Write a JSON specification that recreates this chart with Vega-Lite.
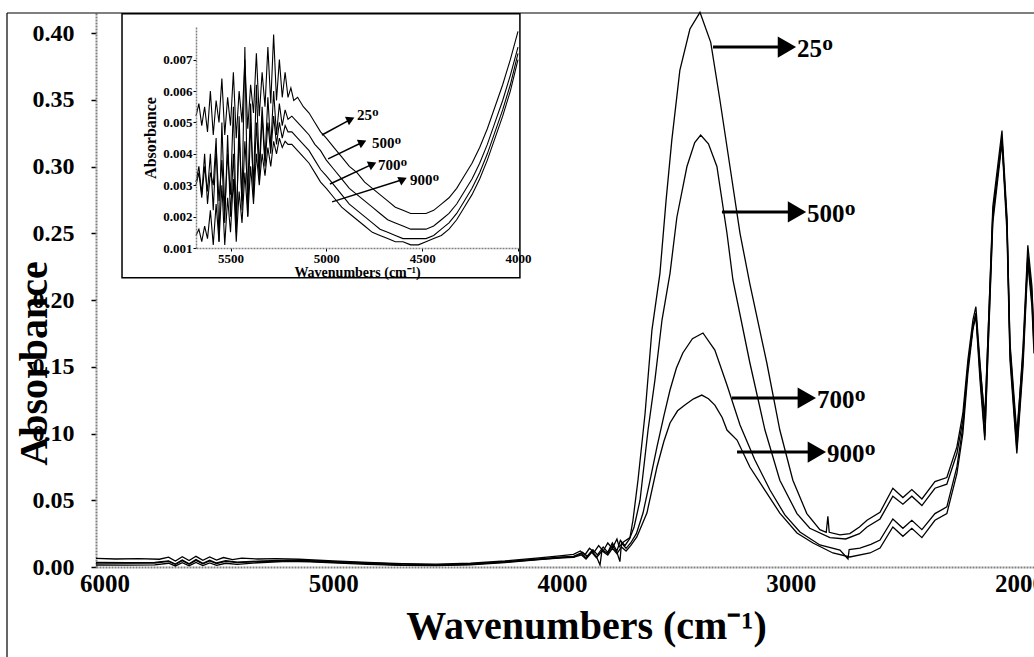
{
"$schema":"https://vega.github.io/schema/vega-lite/v6.json",
"width":938,"height":554,
"autosize":{"type":"none"},
"padding":{"left":96,"top":13,"right":0,"bottom":90},
"background":"white",
"config":{"view":{"stroke":null},"axis":{"grid":false},"text":{"font":"Liberation Serif"}},
"datasets":{
"main":[
{"s":"25","w":6037,"a":0.0065},{"s":"25","w":5950,"a":0.006},{"s":"25","w":5850,"a":0.0062},{"s":"25","w":5760,"a":0.0058},{"s":"25","w":5720,"a":0.0074},{"s":"25","w":5690,"a":0.0045},{"s":"25","w":5660,"a":0.0077},{"s":"25","w":5630,"a":0.0048},{"s":"25","w":5600,"a":0.008},{"s":"25","w":5570,"a":0.005},{"s":"25","w":5540,"a":0.0075},{"s":"25","w":5510,"a":0.0052},{"s":"25","w":5480,"a":0.0071},{"s":"25","w":5440,"a":0.0055},{"s":"25","w":5400,"a":0.0066},{"s":"25","w":5330,"a":0.006},{"s":"25","w":5250,"a":0.0062},{"s":"25","w":5150,"a":0.0058},{"s":"25","w":5000,"a":0.0045},{"s":"25","w":4850,"a":0.0035},{"s":"25","w":4700,"a":0.0026},{"s":"25","w":4550,"a":0.0022},{"s":"25","w":4400,"a":0.0028},{"s":"25","w":4250,"a":0.0045},{"s":"25","w":4100,"a":0.0068},{"s":"25","w":4000,"a":0.0085},{"s":"25","w":3950,"a":0.0095},{"s":"25","w":3920,"a":0.012},{"s":"25","w":3900,"a":0.009},{"s":"25","w":3880,"a":0.014},{"s":"25","w":3860,"a":0.011},{"s":"25","w":3840,"a":0.016},{"s":"25","w":3820,"a":0.012},{"s":"25","w":3800,"a":0.018},{"s":"25","w":3780,"a":0.014},{"s":"25","w":3760,"a":0.021},{"s":"25","w":3750,"a":0.015},{"s":"25","w":3730,"a":0.019},{"s":"25","w":3703,"a":0.022},{"s":"25","w":3690,"a":0.035},{"s":"25","w":3668,"a":0.065},{"s":"25","w":3637,"a":0.115},{"s":"25","w":3607,"a":0.1775},{"s":"25","w":3572,"a":0.22},{"s":"25","w":3545,"a":0.275},{"s":"25","w":3520,"a":0.32},{"s":"25","w":3485,"a":0.372},{"s":"25","w":3441,"a":0.403},{"s":"25","w":3397,"a":0.4155},{"s":"25","w":3350,"a":0.393},{"s":"25","w":3310,"a":0.35},{"s":"25","w":3266,"a":0.3},{"s":"25","w":3222,"a":0.25},{"s":"25","w":3179,"a":0.212},{"s":"25","w":3105,"a":0.153},{"s":"25","w":3048,"a":0.1026},{"s":"25","w":2991,"a":0.065},{"s":"25","w":2930,"a":0.04},{"s":"25","w":2873,"a":0.028},{"s":"25","w":2845,"a":0.026},{"s":"25","w":2838,"a":0.038},{"s":"25","w":2832,"a":0.026},{"s":"25","w":2785,"a":0.024},{"s":"25","w":2742,"a":0.025},{"s":"25","w":2700,"a":0.03},{"s":"25","w":2667,"a":0.035},{"s":"25","w":2610,"a":0.041},{"s":"25","w":2554,"a":0.059},{"s":"25","w":2510,"a":0.052},{"s":"25","w":2471,"a":0.058},{"s":"25","w":2427,"a":0.051},{"s":"25","w":2370,"a":0.064},{"s":"25","w":2318,"a":0.067},{"s":"25","w":2274,"a":0.09},{"s":"25","w":2248,"a":0.115},{"s":"25","w":2226,"a":0.155},{"s":"25","w":2204,"a":0.185},{"s":"25","w":2191,"a":0.195},{"s":"25","w":2173,"a":0.153},{"s":"25","w":2152,"a":0.108},{"s":"25","w":2117,"a":0.27},{"s":"25","w":2077,"a":0.327},{"s":"25","w":2055,"a":0.262},{"s":"25","w":2042,"a":0.165},{"s":"25","w":2012,"a":0.095},{"s":"25","w":1985,"a":0.165},{"s":"25","w":1964,"a":0.241},{"s":"25","w":1946,"a":0.21},{"s":"25","w":1937,"a":0.17},
{"s":"500","w":6037,"a":0.0035},{"s":"500","w":5900,"a":0.0032},{"s":"500","w":5780,"a":0.0034},{"s":"500","w":5720,"a":0.0046},{"s":"500","w":5690,"a":0.0022},{"s":"500","w":5660,"a":0.0052},{"s":"500","w":5630,"a":0.0024},{"s":"500","w":5600,"a":0.0056},{"s":"500","w":5570,"a":0.0027},{"s":"500","w":5540,"a":0.0051},{"s":"500","w":5510,"a":0.003},{"s":"500","w":5470,"a":0.0047},{"s":"500","w":5420,"a":0.0036},{"s":"500","w":5330,"a":0.0044},{"s":"500","w":5200,"a":0.0051},{"s":"500","w":5100,"a":0.0047},{"s":"500","w":5000,"a":0.004},{"s":"500","w":4850,"a":0.003},{"s":"500","w":4700,"a":0.0021},{"s":"500","w":4550,"a":0.0016},{"s":"500","w":4400,"a":0.0022},{"s":"500","w":4250,"a":0.004},{"s":"500","w":4100,"a":0.006},{"s":"500","w":4000,"a":0.0075},{"s":"500","w":3950,"a":0.008},{"s":"500","w":3910,"a":0.011},{"s":"500","w":3890,"a":0.008},{"s":"500","w":3865,"a":0.013},{"s":"500","w":3845,"a":0.009},{"s":"500","w":3820,"a":0.015},{"s":"500","w":3800,"a":0.011},{"s":"500","w":3780,"a":0.018},{"s":"500","w":3760,"a":0.012},{"s":"500","w":3745,"a":0.02},{"s":"500","w":3725,"a":0.016},{"s":"500","w":3705,"a":0.021},{"s":"500","w":3685,"a":0.03},{"s":"500","w":3659,"a":0.05},{"s":"500","w":3624,"a":0.1026},{"s":"500","w":3594,"a":0.14},{"s":"500","w":3563,"a":0.185},{"s":"500","w":3528,"a":0.22},{"s":"500","w":3498,"a":0.262},{"s":"500","w":3454,"a":0.3},{"s":"500","w":3420,"a":0.318},{"s":"500","w":3394,"a":0.3236},{"s":"500","w":3360,"a":0.317},{"s":"500","w":3323,"a":0.3},{"s":"500","w":3279,"a":0.25},{"s":"500","w":3253,"a":0.215},{"s":"500","w":3179,"a":0.153},{"s":"500","w":3113,"a":0.1026},{"s":"500","w":3048,"a":0.065},{"s":"500","w":2973,"a":0.04},{"s":"500","w":2917,"a":0.029},{"s":"500","w":2829,"a":0.022},{"s":"500","w":2760,"a":0.021},{"s":"500","w":2700,"a":0.025},{"s":"500","w":2667,"a":0.03},{"s":"500","w":2610,"a":0.036},{"s":"500","w":2554,"a":0.053},{"s":"500","w":2510,"a":0.047},{"s":"500","w":2471,"a":0.053},{"s":"500","w":2427,"a":0.046},{"s":"500","w":2370,"a":0.059},{"s":"500","w":2318,"a":0.062},{"s":"500","w":2274,"a":0.085},{"s":"500","w":2248,"a":0.11},{"s":"500","w":2226,"a":0.15},{"s":"500","w":2204,"a":0.18},{"s":"500","w":2191,"a":0.19},{"s":"500","w":2173,"a":0.15},{"s":"500","w":2152,"a":0.112},{"s":"500","w":2117,"a":0.265},{"s":"500","w":2077,"a":0.32},{"s":"500","w":2055,"a":0.258},{"s":"500","w":2042,"a":0.168},{"s":"500","w":2012,"a":0.1},{"s":"500","w":1985,"a":0.16},{"s":"500","w":1964,"a":0.235},{"s":"500","w":1946,"a":0.205},{"s":"500","w":1937,"a":0.175},
{"s":"700","w":6037,"a":0.003},{"s":"700","w":5900,"a":0.0029},{"s":"700","w":5780,"a":0.003},{"s":"700","w":5720,"a":0.0042},{"s":"700","w":5690,"a":0.002},{"s":"700","w":5660,"a":0.0048},{"s":"700","w":5630,"a":0.0021},{"s":"700","w":5600,"a":0.005},{"s":"700","w":5570,"a":0.0024},{"s":"700","w":5540,"a":0.0046},{"s":"700","w":5510,"a":0.0026},{"s":"700","w":5470,"a":0.0042},{"s":"700","w":5420,"a":0.0033},{"s":"700","w":5330,"a":0.004},{"s":"700","w":5200,"a":0.0047},{"s":"700","w":5100,"a":0.0042},{"s":"700","w":5000,"a":0.0035},{"s":"700","w":4850,"a":0.0025},{"s":"700","w":4700,"a":0.0015},{"s":"700","w":4550,"a":0.0013},{"s":"700","w":4400,"a":0.0019},{"s":"700","w":4250,"a":0.0036},{"s":"700","w":4100,"a":0.0058},{"s":"700","w":4000,"a":0.007},{"s":"700","w":3950,"a":0.0075},{"s":"700","w":3915,"a":0.01},{"s":"700","w":3895,"a":0.007},{"s":"700","w":3870,"a":0.012},{"s":"700","w":3850,"a":0.008},{"s":"700","w":3834,"a":0.0015},{"s":"700","w":3825,"a":0.013},{"s":"700","w":3800,"a":0.01},{"s":"700","w":3780,"a":0.016},{"s":"700","w":3760,"a":0.011},{"s":"700","w":3747,"a":0.004},{"s":"700","w":3740,"a":0.018},{"s":"700","w":3720,"a":0.014},{"s":"700","w":3700,"a":0.018},{"s":"700","w":3675,"a":0.025},{"s":"700","w":3646,"a":0.0404},{"s":"700","w":3615,"a":0.065},{"s":"700","w":3585,"a":0.0899},{"s":"700","w":3555,"a":0.113},{"s":"700","w":3528,"a":0.1326},{"s":"700","w":3500,"a":0.149},{"s":"700","w":3472,"a":0.1603},{"s":"700","w":3430,"a":0.171},{"s":"700","w":3384,"a":0.1753},{"s":"700","w":3332,"a":0.1625},{"s":"700","w":3279,"a":0.1363},{"s":"700","w":3222,"a":0.1064},{"s":"700","w":3157,"a":0.0801},{"s":"700","w":3091,"a":0.0577},{"s":"700","w":3026,"a":0.039},{"s":"700","w":2960,"a":0.0262},{"s":"700","w":2873,"a":0.0165},{"s":"700","w":2785,"a":0.0127},{"s":"700","w":2750,"a":0.006},{"s":"700","w":2745,"a":0.013},{"s":"700","w":2698,"a":0.0142},{"s":"700","w":2650,"a":0.017},{"s":"700","w":2610,"a":0.0202},{"s":"700","w":2554,"a":0.036},{"s":"700","w":2510,"a":0.029},{"s":"700","w":2471,"a":0.035},{"s":"700","w":2427,"a":0.028},{"s":"700","w":2370,"a":0.04},{"s":"700","w":2318,"a":0.045},{"s":"700","w":2274,"a":0.075},{"s":"700","w":2248,"a":0.105},{"s":"700","w":2226,"a":0.15},{"s":"700","w":2204,"a":0.18},{"s":"700","w":2191,"a":0.19},{"s":"700","w":2173,"a":0.145},{"s":"700","w":2152,"a":0.098},{"s":"700","w":2117,"a":0.262},{"s":"700","w":2077,"a":0.322},{"s":"700","w":2055,"a":0.255},{"s":"700","w":2042,"a":0.16},{"s":"700","w":2012,"a":0.088},{"s":"700","w":1985,"a":0.155},{"s":"700","w":1964,"a":0.232},{"s":"700","w":1946,"a":0.2},{"s":"700","w":1937,"a":0.165},
{"s":"900","w":6037,"a":0.0015},{"s":"900","w":5900,"a":0.0014},{"s":"900","w":5780,"a":0.0016},{"s":"900","w":5720,"a":0.0028},{"s":"900","w":5690,"a":0.0008},{"s":"900","w":5660,"a":0.0032},{"s":"900","w":5630,"a":0.0009},{"s":"900","w":5600,"a":0.0034},{"s":"900","w":5570,"a":0.0011},{"s":"900","w":5540,"a":0.003},{"s":"900","w":5510,"a":0.0013},{"s":"900","w":5470,"a":0.0028},{"s":"900","w":5420,"a":0.002},{"s":"900","w":5330,"a":0.0032},{"s":"900","w":5200,"a":0.0043},{"s":"900","w":5100,"a":0.0038},{"s":"900","w":5000,"a":0.0031},{"s":"900","w":4850,"a":0.002},{"s":"900","w":4700,"a":0.0012},{"s":"900","w":4550,"a":0.0011},{"s":"900","w":4400,"a":0.0017},{"s":"900","w":4250,"a":0.0033},{"s":"900","w":4100,"a":0.0055},{"s":"900","w":4000,"a":0.0068},{"s":"900","w":3950,"a":0.0072},{"s":"900","w":3915,"a":0.009},{"s":"900","w":3895,"a":0.006},{"s":"900","w":3870,"a":0.011},{"s":"900","w":3850,"a":0.007},{"s":"900","w":3825,"a":0.012},{"s":"900","w":3800,"a":0.009},{"s":"900","w":3780,"a":0.014},{"s":"900","w":3760,"a":0.01},{"s":"900","w":3740,"a":0.015},{"s":"900","w":3720,"a":0.012},{"s":"900","w":3700,"a":0.016},{"s":"900","w":3673,"a":0.0225},{"s":"900","w":3629,"a":0.0404},{"s":"900","w":3585,"a":0.0749},{"s":"900","w":3555,"a":0.094},{"s":"900","w":3528,"a":0.1079},{"s":"900","w":3495,"a":0.117},{"s":"900","w":3463,"a":0.1213},{"s":"900","w":3425,"a":0.126},{"s":"900","w":3389,"a":0.1288},{"s":"900","w":3360,"a":0.126},{"s":"900","w":3332,"a":0.1213},{"s":"900","w":3300,"a":0.112},{"s":"900","w":3279,"a":0.1026},{"s":"900","w":3235,"a":0.0951},{"s":"900","w":3179,"a":0.0749},{"s":"900","w":3122,"a":0.0599},{"s":"900","w":3048,"a":0.0404},{"s":"900","w":2973,"a":0.0255},{"s":"900","w":2903,"a":0.018},{"s":"900","w":2816,"a":0.0105},{"s":"900","w":2742,"a":0.0075},{"s":"900","w":2654,"a":0.0105},{"s":"900","w":2610,"a":0.0142},{"s":"900","w":2554,"a":0.03},{"s":"900","w":2510,"a":0.023},{"s":"900","w":2471,"a":0.029},{"s":"900","w":2427,"a":0.022},{"s":"900","w":2370,"a":0.035},{"s":"900","w":2318,"a":0.04},{"s":"900","w":2274,"a":0.07},{"s":"900","w":2248,"a":0.1},{"s":"900","w":2226,"a":0.145},{"s":"900","w":2204,"a":0.178},{"s":"900","w":2191,"a":0.188},{"s":"900","w":2173,"a":0.14},{"s":"900","w":2152,"a":0.095},{"s":"900","w":2117,"a":0.258},{"s":"900","w":2077,"a":0.318},{"s":"900","w":2055,"a":0.25},{"s":"900","w":2042,"a":0.155},{"s":"900","w":2012,"a":0.085},{"s":"900","w":1985,"a":0.15},{"s":"900","w":1964,"a":0.228},{"s":"900","w":1946,"a":0.195},{"s":"900","w":1937,"a":0.16}
],
"inset":[
{"s":"25","w":5680,"a":0.0052},{"s":"25","w":5665,"a":0.0056},{"s":"25","w":5650,"a":0.0049},{"s":"25","w":5635,"a":0.0055},{"s":"25","w":5620,"a":0.0047},{"s":"25","w":5605,"a":0.006},{"s":"25","w":5590,"a":0.0046},{"s":"25","w":5575,"a":0.0057},{"s":"25","w":5560,"a":0.005},{"s":"25","w":5545,"a":0.0064},{"s":"25","w":5530,"a":0.0046},{"s":"25","w":5515,"a":0.0058},{"s":"25","w":5500,"a":0.0049},{"s":"25","w":5485,"a":0.0066},{"s":"25","w":5470,"a":0.0045},{"s":"25","w":5455,"a":0.006},{"s":"25","w":5440,"a":0.005},{"s":"25","w":5425,"a":0.007},{"s":"25","w":5410,"a":0.0048},{"s":"25","w":5395,"a":0.0062},{"s":"25","w":5380,"a":0.0053},{"s":"25","w":5365,"a":0.0072},{"s":"25","w":5350,"a":0.0052},{"s":"25","w":5335,"a":0.0066},{"s":"25","w":5320,"a":0.0055},{"s":"25","w":5305,"a":0.0074},{"s":"25","w":5290,"a":0.0056},{"s":"25","w":5275,"a":0.0078},{"s":"25","w":5260,"a":0.0057},{"s":"25","w":5245,"a":0.007},{"s":"25","w":5230,"a":0.0058},{"s":"25","w":5215,"a":0.0066},{"s":"25","w":5200,"a":0.0058},{"s":"25","w":5185,"a":0.0061},{"s":"25","w":5170,"a":0.0057},{"s":"25","w":5150,"a":0.0058},{"s":"25","w":5120,"a":0.0055},{"s":"25","w":5090,"a":0.0053},{"s":"25","w":5060,"a":0.005},{"s":"25","w":5030,"a":0.0047},{"s":"25","w":5000,"a":0.0045},{"s":"25","w":4960,"a":0.0042},{"s":"25","w":4920,"a":0.0039},{"s":"25","w":4880,"a":0.0036},{"s":"25","w":4840,"a":0.0034},{"s":"25","w":4800,"a":0.0031},{"s":"25","w":4760,"a":0.0029},{"s":"25","w":4720,"a":0.0027},{"s":"25","w":4680,"a":0.0025},{"s":"25","w":4640,"a":0.0023},{"s":"25","w":4600,"a":0.0022},{"s":"25","w":4560,"a":0.0021},{"s":"25","w":4520,"a":0.0021},{"s":"25","w":4480,"a":0.0021},{"s":"25","w":4440,"a":0.0022},{"s":"25","w":4400,"a":0.0024},{"s":"25","w":4360,"a":0.0026},{"s":"25","w":4320,"a":0.0029},{"s":"25","w":4280,"a":0.0033},{"s":"25","w":4240,"a":0.0037},{"s":"25","w":4200,"a":0.0042},{"s":"25","w":4160,"a":0.0048},{"s":"25","w":4120,"a":0.0055},{"s":"25","w":4080,"a":0.0062},{"s":"25","w":4040,"a":0.007},{"s":"25","w":4000,"a":0.0079},
{"s":"500","w":5680,"a":0.0031},{"s":"500","w":5665,"a":0.0036},{"s":"500","w":5650,"a":0.0027},{"s":"500","w":5635,"a":0.004},{"s":"500","w":5620,"a":0.0024},{"s":"500","w":5605,"a":0.0034},{"s":"500","w":5590,"a":0.003},{"s":"500","w":5575,"a":0.0045},{"s":"500","w":5560,"a":0.0012},{"s":"500","w":5545,"a":0.005},{"s":"500","w":5530,"a":0.0022},{"s":"500","w":5515,"a":0.004},{"s":"500","w":5500,"a":0.0027},{"s":"500","w":5485,"a":0.0055},{"s":"500","w":5470,"a":0.0018},{"s":"500","w":5455,"a":0.0046},{"s":"500","w":5440,"a":0.0025},{"s":"500","w":5425,"a":0.0074},{"s":"500","w":5410,"a":0.002},{"s":"500","w":5395,"a":0.005},{"s":"500","w":5380,"a":0.003},{"s":"500","w":5365,"a":0.0062},{"s":"500","w":5350,"a":0.0035},{"s":"500","w":5335,"a":0.0055},{"s":"500","w":5320,"a":0.0038},{"s":"500","w":5305,"a":0.0058},{"s":"500","w":5290,"a":0.0042},{"s":"500","w":5275,"a":0.006},{"s":"500","w":5260,"a":0.0046},{"s":"500","w":5245,"a":0.0056},{"s":"500","w":5230,"a":0.0049},{"s":"500","w":5215,"a":0.0054},{"s":"500","w":5200,"a":0.0051},{"s":"500","w":5180,"a":0.0052},{"s":"500","w":5150,"a":0.005},{"s":"500","w":5120,"a":0.0048},{"s":"500","w":5090,"a":0.0046},{"s":"500","w":5060,"a":0.0043},{"s":"500","w":5030,"a":0.0041},{"s":"500","w":5000,"a":0.0038},{"s":"500","w":4960,"a":0.0035},{"s":"500","w":4920,"a":0.0032},{"s":"500","w":4880,"a":0.0029},{"s":"500","w":4840,"a":0.0027},{"s":"500","w":4800,"a":0.0025},{"s":"500","w":4760,"a":0.0023},{"s":"500","w":4720,"a":0.0021},{"s":"500","w":4680,"a":0.0019},{"s":"500","w":4640,"a":0.0018},{"s":"500","w":4600,"a":0.0017},{"s":"500","w":4560,"a":0.0016},{"s":"500","w":4520,"a":0.0016},{"s":"500","w":4480,"a":0.0016},{"s":"500","w":4440,"a":0.0017},{"s":"500","w":4400,"a":0.0019},{"s":"500","w":4360,"a":0.0021},{"s":"500","w":4320,"a":0.0024},{"s":"500","w":4280,"a":0.0028},{"s":"500","w":4240,"a":0.0032},{"s":"500","w":4200,"a":0.0037},{"s":"500","w":4160,"a":0.0043},{"s":"500","w":4120,"a":0.005},{"s":"500","w":4080,"a":0.0057},{"s":"500","w":4040,"a":0.0065},{"s":"500","w":4000,"a":0.0074},
{"s":"700","w":5680,"a":0.003},{"s":"700","w":5665,"a":0.0034},{"s":"700","w":5650,"a":0.0026},{"s":"700","w":5635,"a":0.0036},{"s":"700","w":5620,"a":0.0028},{"s":"700","w":5605,"a":0.004},{"s":"700","w":5590,"a":0.0022},{"s":"700","w":5575,"a":0.0042},{"s":"700","w":5560,"a":0.0025},{"s":"700","w":5545,"a":0.0038},{"s":"700","w":5530,"a":0.0018},{"s":"700","w":5515,"a":0.0046},{"s":"700","w":5500,"a":0.002},{"s":"700","w":5485,"a":0.004},{"s":"700","w":5470,"a":0.0015},{"s":"700","w":5455,"a":0.0052},{"s":"700","w":5440,"a":0.0022},{"s":"700","w":5425,"a":0.0044},{"s":"700","w":5410,"a":0.0028},{"s":"700","w":5395,"a":0.0056},{"s":"700","w":5380,"a":0.0026},{"s":"700","w":5365,"a":0.005},{"s":"700","w":5350,"a":0.0032},{"s":"700","w":5335,"a":0.0052},{"s":"700","w":5320,"a":0.0036},{"s":"700","w":5305,"a":0.005},{"s":"700","w":5290,"a":0.004},{"s":"700","w":5275,"a":0.0052},{"s":"700","w":5260,"a":0.0043},{"s":"700","w":5245,"a":0.005},{"s":"700","w":5230,"a":0.0045},{"s":"700","w":5215,"a":0.0049},{"s":"700","w":5200,"a":0.0047},{"s":"700","w":5180,"a":0.0047},{"s":"700","w":5150,"a":0.0045},{"s":"700","w":5120,"a":0.0043},{"s":"700","w":5090,"a":0.0041},{"s":"700","w":5060,"a":0.0038},{"s":"700","w":5030,"a":0.0035},{"s":"700","w":5000,"a":0.0033},{"s":"700","w":4960,"a":0.003},{"s":"700","w":4920,"a":0.0027},{"s":"700","w":4880,"a":0.0024},{"s":"700","w":4840,"a":0.0022},{"s":"700","w":4800,"a":0.002},{"s":"700","w":4760,"a":0.0018},{"s":"700","w":4720,"a":0.0016},{"s":"700","w":4680,"a":0.0015},{"s":"700","w":4640,"a":0.0014},{"s":"700","w":4600,"a":0.0013},{"s":"700","w":4560,"a":0.0013},{"s":"700","w":4520,"a":0.0013},{"s":"700","w":4480,"a":0.0013},{"s":"700","w":4440,"a":0.0014},{"s":"700","w":4400,"a":0.0016},{"s":"700","w":4360,"a":0.0018},{"s":"700","w":4320,"a":0.0021},{"s":"700","w":4280,"a":0.0025},{"s":"700","w":4240,"a":0.0029},{"s":"700","w":4200,"a":0.0034},{"s":"700","w":4160,"a":0.004},{"s":"700","w":4120,"a":0.0047},{"s":"700","w":4080,"a":0.0054},{"s":"700","w":4040,"a":0.0062},{"s":"700","w":4000,"a":0.0072},
{"s":"900","w":5680,"a":0.0014},{"s":"900","w":5665,"a":0.0016},{"s":"900","w":5650,"a":0.0012},{"s":"900","w":5635,"a":0.0017},{"s":"900","w":5620,"a":0.0013},{"s":"900","w":5605,"a":0.0022},{"s":"900","w":5590,"a":0.0011},{"s":"900","w":5575,"a":0.0024},{"s":"900","w":5560,"a":0.0012},{"s":"900","w":5545,"a":0.003},{"s":"900","w":5530,"a":0.0011},{"s":"900","w":5515,"a":0.0026},{"s":"900","w":5500,"a":0.0015},{"s":"900","w":5485,"a":0.0032},{"s":"900","w":5470,"a":0.0012},{"s":"900","w":5455,"a":0.0028},{"s":"900","w":5440,"a":0.0018},{"s":"900","w":5425,"a":0.0034},{"s":"900","w":5410,"a":0.002},{"s":"900","w":5395,"a":0.0036},{"s":"900","w":5380,"a":0.0024},{"s":"900","w":5365,"a":0.004},{"s":"900","w":5350,"a":0.003},{"s":"900","w":5335,"a":0.004},{"s":"900","w":5320,"a":0.0033},{"s":"900","w":5305,"a":0.0042},{"s":"900","w":5290,"a":0.0036},{"s":"900","w":5275,"a":0.0044},{"s":"900","w":5260,"a":0.004},{"s":"900","w":5245,"a":0.0045},{"s":"900","w":5230,"a":0.0042},{"s":"900","w":5215,"a":0.0044},{"s":"900","w":5200,"a":0.0043},{"s":"900","w":5180,"a":0.0043},{"s":"900","w":5150,"a":0.0041},{"s":"900","w":5120,"a":0.0039},{"s":"900","w":5090,"a":0.0037},{"s":"900","w":5060,"a":0.0034},{"s":"900","w":5030,"a":0.0031},{"s":"900","w":5000,"a":0.0029},{"s":"900","w":4960,"a":0.0026},{"s":"900","w":4920,"a":0.0023},{"s":"900","w":4880,"a":0.0021},{"s":"900","w":4840,"a":0.0019},{"s":"900","w":4800,"a":0.0017},{"s":"900","w":4760,"a":0.0015},{"s":"900","w":4720,"a":0.0014},{"s":"900","w":4680,"a":0.0013},{"s":"900","w":4640,"a":0.0012},{"s":"900","w":4600,"a":0.0012},{"s":"900","w":4560,"a":0.0011},{"s":"900","w":4520,"a":0.0011},{"s":"900","w":4480,"a":0.0012},{"s":"900","w":4440,"a":0.0013},{"s":"900","w":4400,"a":0.0014},{"s":"900","w":4360,"a":0.0016},{"s":"900","w":4320,"a":0.0019},{"s":"900","w":4280,"a":0.0023},{"s":"900","w":4240,"a":0.0027},{"s":"900","w":4200,"a":0.0032},{"s":"900","w":4160,"a":0.0038},{"s":"900","w":4120,"a":0.0045},{"s":"900","w":4080,"a":0.0052},{"s":"900","w":4040,"a":0.006},{"s":"900","w":4000,"a":0.007}
],
"mainArrows":[
{"lab":"25ᴼ","w":3340,"w2":3017,"wt":2973,"a":0.3895},
{"lab":"500ᴼ","w":3301,"w2":2973,"wt":2929,"a":0.266},
{"lab":"700ᴼ","w":3257,"w2":2930,"wt":2886,"a":0.1266},
{"lab":"900ᴼ","w":3235,"w2":2886,"wt":2842,"a":0.0861}
],
"frame":[
{"w":6426,"w2":1937,"a":0.415,"a2":0.415},
{"w":6426,"w2":6426,"a":0.415,"a2":-0.0674}
],
"insetArrows":[
{"lab":"25ᴼ","w":5023,"a":0.0046,"w2":4873,"a2":0.0051,"wt":4840,"at":0.00524},
{"lab":"500ᴼ","w":4991,"a":0.00384,"w2":4811,"a2":0.00437,"wt":4762,"at":0.00434},
{"lab":"700ᴼ","w":4981,"a":0.00304,"w2":4759,"a2":0.00367,"wt":4731,"at":0.00364},
{"lab":"900ᴼ","w":4970,"a":0.00247,"w2":4600,"a2":0.00318,"wt":4564,"at":0.00317}
],
"insetFrame":[{"w":6066,"w2":3990,"a":0.00846,"a2":0.00005}]
},
"resolve":{"scale":{"x":"independent","y":"independent"},"axis":{"x":"independent","y":"independent"}},
"layer":[
{
"encoding":{
"x":{"field":"w","type":"quantitative","scale":{"domain":[6037,1937],"nice":false,"zero":false},
"axis":{"values":[6000,5000,4000,3000,2000],"format":"d","title":"Wavenumbers (cm⁻¹)","labelFont":"Liberation Serif","labelFontWeight":"bold","labelFontSize":25,"labelColor":"black","labelPadding":4,"labelFlush":false,"ticks":false,"domainColor":"#808080","domainDash":[2,1],"domainWidth":2,"titleFont":"Liberation Serif","titleFontWeight":"bold","titleFontSize":40,"titleColor":"black","titleX":490,"titleY":71,"titleAlign":"center","titleBaseline":"alphabetic"}},
"y":{"field":"a","type":"quantitative","scale":{"domain":[0,0.415],"nice":false,"zero":false},
"axis":{"values":[0,0.05,0.1,0.15,0.2,0.25,0.3,0.35,0.4],"format":".2f","title":"Absorbance","labelFont":"Liberation Serif","labelFontWeight":"bold","labelFontSize":24,"labelColor":"black","labelPadding":17,"tickSize":5,"tickColor":"black","tickWidth":1.5,"domainColor":"#808080","domainDash":[2,1],"domainWidth":2,"titleFont":"Liberation Serif","titleFontWeight":"bold","titleFontSize":40,"titleColor":"black","titleX":-50,"titleY":350,"titleAngle":-90,"titleAlign":"center","titleBaseline":"alphabetic"}}
},
"layer":[
{"data":{"name":"main"},"mark":{"type":"line","color":"black","strokeWidth":1.3},"encoding":{"detail":{"field":"s"}}},
{"data":{"name":"mainArrows"},"mark":{"type":"rule","color":"black","strokeWidth":3},"encoding":{"x2":{"field":"w2"}}},
{"data":{"name":"mainArrows"},"mark":{"type":"point","shape":"triangle-right","filled":true,"color":"black","size":450,"opacity":1},"encoding":{"x":{"field":"w2","type":"quantitative"}}},
{"data":{"name":"mainArrows"},"mark":{"type":"text","align":"left","baseline":"middle","font":"Liberation Serif","fontWeight":"bold","fontSize":25,"color":"black","dy":2},"encoding":{"x":{"field":"wt","type":"quantitative"},"text":{"field":"lab"}}},
{"data":{"name":"frame"},"mark":{"type":"rule","color":"black","strokeWidth":1.2},"encoding":{"x2":{"field":"w2"},"y2":{"field":"a2"}}}
]
},
{
"encoding":{
"x":{"field":"w","type":"quantitative","scale":{"domain":[5680,4000],"range":[100,422],"nice":false,"zero":false},
"axis":{"orient":"bottom","offset":-319,"zindex":1,"values":[5500,5000,4500,4000],"format":"d","title":"Wavenumbers (cm⁻¹)","labelFont":"Liberation Serif","labelFontWeight":"bold","labelFontSize":13,"labelColor":"black","labelPadding":1,"labelFlush":false,"tickSize":3,"tickColor":"black","domainColor":"#808080","domainDash":[2,1],"domainWidth":1.5,"titleFont":"Liberation Serif","titleFontWeight":"bold","titleFontSize":14,"titleColor":"black","titlePadding":0}},
"y":{"field":"a","type":"quantitative","scale":{"domain":[0.001,0.00804],"range":[235,14],"nice":false,"zero":false},
"axis":{"orient":"left","offset":-100,"zindex":1,"values":[0.001,0.002,0.003,0.004,0.005,0.006,0.007],"format":".3f","title":"Absorbance","labelFont":"Liberation Serif","labelFontWeight":"bold","labelFontSize":13,"labelColor":"black","labelPadding":1,"tickSize":3,"tickColor":"black","domainColor":"#808080","domainDash":[2,1],"domainWidth":1.5,"titleFont":"Liberation Serif","titleFontWeight":"bold","titleFontSize":16,"titleColor":"black","titlePadding":4}}
},
"layer":[
{"data":{"name":"insetFrame"},"mark":{"type":"rect","fill":"white","stroke":"black","strokeWidth":1.5},"encoding":{"x2":{"field":"w2"},"y2":{"field":"a2"}}},
{"data":{"name":"inset"},"mark":{"type":"line","color":"black","strokeWidth":1.1},"encoding":{"detail":{"field":"s"}}},
{"data":{"name":"insetArrows"},"mark":{"type":"rule","color":"black","strokeWidth":1.5},"encoding":{"x2":{"field":"w2"},"y2":{"field":"a2"}}},
{"data":{"name":"insetArrows"},"mark":{"type":"point","shape":"triangle-right","filled":true,"color":"black","size":90,"angle":-25,"opacity":1},"encoding":{"x":{"field":"w2","type":"quantitative"},"y":{"field":"a2","type":"quantitative"}}},
{"data":{"name":"insetArrows"},"mark":{"type":"text","align":"left","baseline":"middle","font":"Liberation Serif","fontWeight":"bold","fontSize":15,"color":"black"},"encoding":{"x":{"field":"wt","type":"quantitative"},"y":{"field":"at","type":"quantitative"},"text":{"field":"lab"}}}
]
}
]
}
